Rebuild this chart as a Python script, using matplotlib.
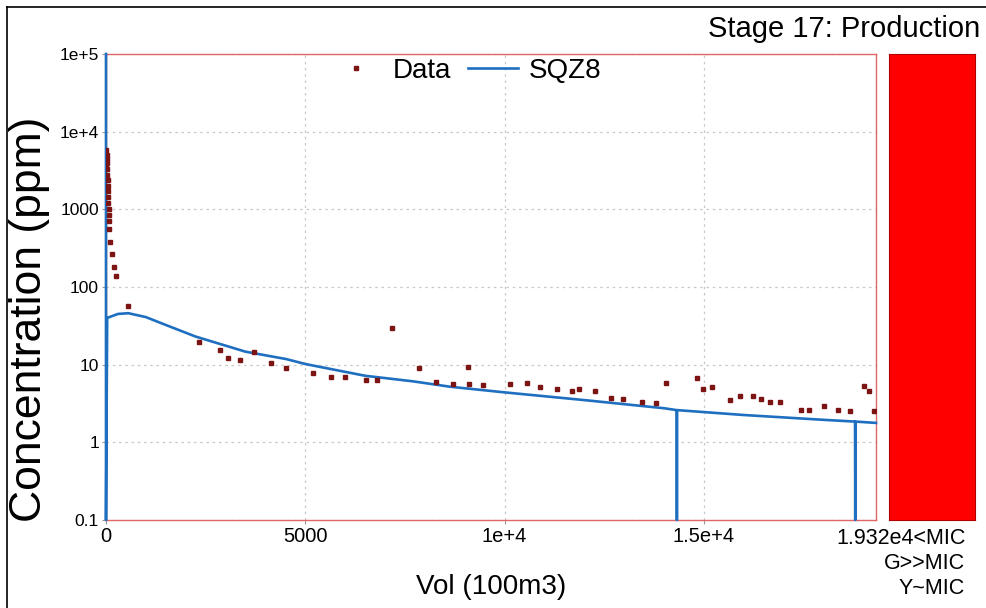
import matplotlib
matplotlib.use("Agg")
import matplotlib.pyplot as plt
from matplotlib.lines import Line2D

plt.rcParams['font.family'] = ['Liberation Sans', 'DejaVu Sans']

# measured data points (vol, ppm)
data_x = [0, 10, 15, 20, 25, 30, 35, 40, 45, 50, 55, 60, 65, 70, 75, 85, 100, 143, 201, 251,
          560, 2343, 2862, 3063, 3364, 3707, 4134, 4526, 5205, 5648, 6008, 6527, 6812, 7172,
          7857, 8274, 8718, 9078, 9100, 9453, 10141, 10559, 10898, 11308, 11685, 11861, 12273,
          12666, 12967, 13437, 13797, 14048, 14826, 14984, 15210, 15655, 15906, 16232, 16425,
          16651, 16917, 17437, 17638, 18023, 18359, 18660, 19016, 19149, 19259]
data_y = [3400, 5800, 5000, 4400, 3900, 3300, 2800, 2400, 2000, 1700, 1450, 1200, 1000, 850, 700,
          560, 383, 266, 183, 140,
          57, 19.8, 15.4, 12.3, 11.4, 14.4, 10.4, 9.1, 7.7, 7.0, 7.0, 6.35, 6.4, 29.4,
          9.1, 6.0, 5.6, 9.4, 5.6, 5.4, 5.6, 5.8, 5.2, 4.9, 4.6, 4.9, 4.6,
          3.7, 3.6, 3.3, 3.25, 5.75, 6.8, 4.9, 5.2, 3.55, 4.0, 4.0, 3.65,
          3.3, 3.3, 2.63, 2.63, 2.9, 2.63, 2.56, 5.26, 4.6, 2.56]

# SQZ8 model curve (0.1 / 1e5 = off-scale, drawn at the axis limits)
sqz_x = [0, 0, 30, 300, 560, 1000, 1400, 2250, 3500, 4526, 5000, 6500, 7706, 8635, 10000,
         12000, 14000, 14320, 14325, 14330, 16000, 18000, 18795, 18800, 18805, 19320]
sqz_y = [1e5, 0.1, 40, 45, 46, 41, 34, 23, 14.7, 11.8, 10.2, 7.2, 6.1, 5.2, 4.4,
         3.5, 2.75, 2.6, 0.1, 2.6, 2.25, 1.95, 1.85, 0.1, 1.85, 1.78]

xticks = [0, 5000, 10000, 15000]
xticklabels = ['0', '5000', '1e+4', '1.5e+4']
yticks = [0.1, 1, 10, 100, 1000, 1e4, 1e5]
yticklabels = ['0.1', '1', '10', '100', '1000', '1e+4', '1e+5']
xmax = 19320

fig = plt.figure(figsize=(9.86, 6.08), dpi=100)
ax = fig.add_axes([0.1075, 0.1447, 0.7809, 0.7665])

ax.plot(data_x, data_y, 's', color='#7d1414', markersize=2.8, label='Data', zorder=4)
ax.plot(sqz_x, sqz_y, '-', color='#1f6fc0', lw=1.9, label='SQZ8', zorder=3,
        clip_on=False)

ax.set_yscale('log')
ax.set_xlim(0, xmax)
ax.set_ylim(0.1, 1e5)
ax.set_xticks(xticks)
ax.set_xticklabels(xticklabels, fontsize=14.5)
ax.set_yticks(yticks)
ax.set_yticklabels(yticklabels, fontsize=12.5)
ax.minorticks_off()
ax.tick_params(axis='both', length=3, color='#999999', pad=2)
ax.grid(True, linestyle=(0, (2, 3)), color='#c8c8c8', lw=0.9)
for s in ax.spines.values():
    s.set_color('#e06666')
    s.set_linewidth(1.0)

ax.set_ylabel('Concentration (ppm)', fontsize=32)
ax.yaxis.set_label_coords(-0.073, 0.43)
ax.set_xlabel('Vol (100m3)', fontsize=20)
ax.xaxis.set_label_coords(0.5, -0.115)

leg = ax.legend(loc='upper center', bbox_to_anchor=(0.468, 1.045), ncol=2, frameon=False,
                fontsize=20, handlelength=1.8, columnspacing=0.6, handletextpad=0.4,
                markerscale=1.0)

# MIC colour panel
cax = fig.add_axes([0.9016, 0.1447, 0.0872, 0.7665])
cax.axvspan(0, 1, color='#ff0000')
cax.set_xlim(0, 1)
cax.set_xticks([])
cax.set_yticks([])
for s in cax.spines.values():
    s.set_color('#b00000')
    s.set_linewidth(0.8)

fig.text(0.994, 0.952, 'Stage 17: Production', ha='right', va='center', fontsize=21)
fig.text(0.979, 0.131, '1.932e4<MIC\nG>>MIC\nY~MIC', ha='right', va='top',
         fontsize=15.5, linespacing=1.25)

fig.add_artist(Line2D([0.007, 1.0], [0.9885, 0.9885], color='black', lw=1.2,
                      transform=fig.transFigure))
fig.add_artist(Line2D([0.007, 0.007], [0.0, 0.9885], color='black', lw=1.2,
                      transform=fig.transFigure))

fig.savefig('out.png', dpi=100)
